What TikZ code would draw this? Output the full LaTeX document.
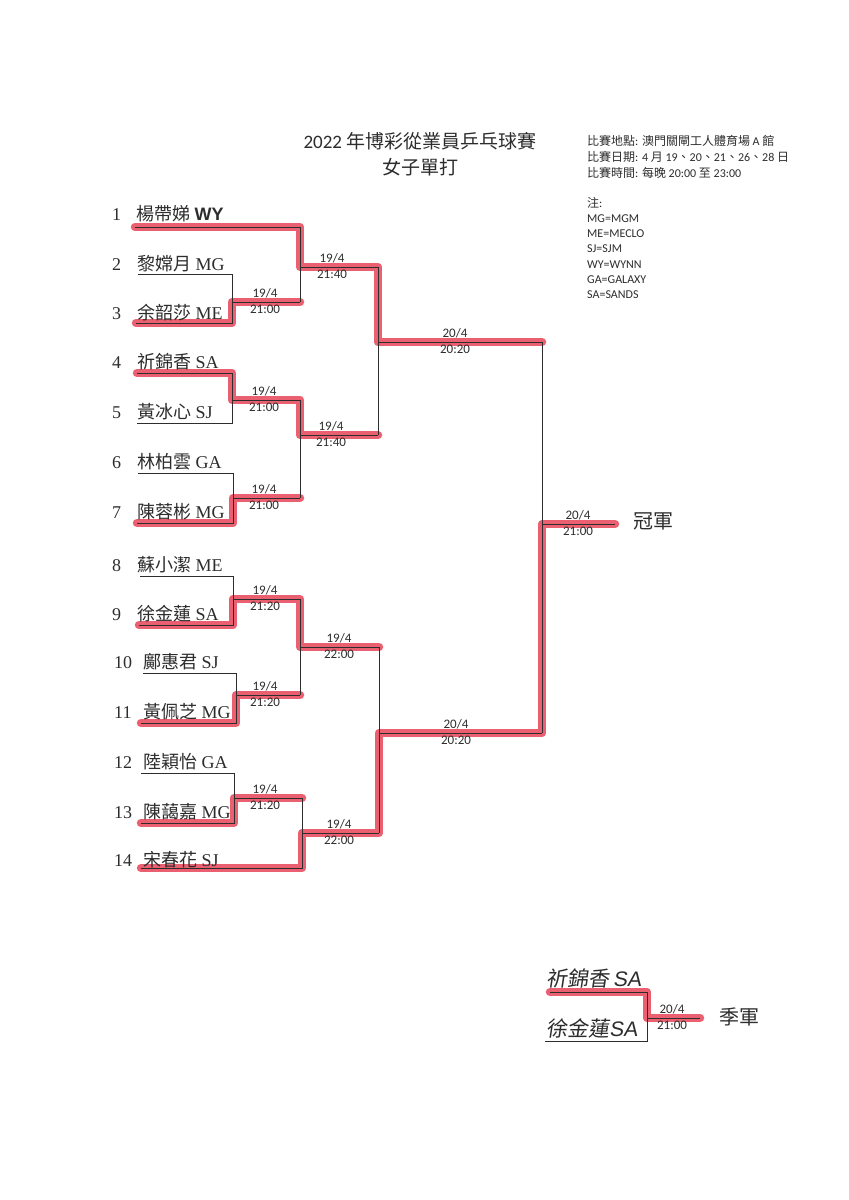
\documentclass[tikz,border=0pt]{standalone}
\usepackage{fontspec}
\setmainfont{Liberation Serif}
\newfontfamily\cjk{Noto Sans CJK TC}
\newfontfamily\calfont{Carlito}
\newfontfamily\arl{Liberation Sans}
\definecolor{hlred}{RGB}{234,96,112}
\definecolor{ink}{RGB}{45,45,45}
\begin{document}
\begin{tikzpicture}[x=1pt,y=-1pt,
  thin/.style={draw=ink, line width=0.8pt},
  hl/.style={draw=hlred, line width=8.5pt, line cap=round, line join=round},
  num/.style={anchor=base west, inner sep=0pt, font=\fontsize{18}{20}\selectfont, text=ink},
  nm/.style={anchor=base west, inner sep=0pt, font=\fontsize{18}{20}\selectfont, text=ink},
  dta/.style={anchor=base, font=\calfont\fontsize{13}{14}\selectfont, inner sep=0pt, text=ink, yshift=5pt},
  dtb/.style={anchor=base, font=\calfont\fontsize{13}{14}\selectfont, inner sep=0pt, text=ink, yshift=-11pt},
  note/.style={anchor=west, inner sep=0pt, font=\calfont\fontsize{12}{13}\selectfont, text=ink},
  ttl/.style={inner sep=0pt, font=\calfont\fontsize{19}{21}\selectfont, text=ink},
  big/.style={inner sep=0pt, font=\cjk\fontsize{20}{22}\selectfont, text=ink},
  hand/.style={inner sep=0pt, font=\fontsize{21}{23}\selectfont, text=ink, xslant=0.15}
]
\useasboundingbox (0,0) rectangle (849,1200);
\fill[white] (0,0) rectangle (849,1200);

% ---------- coordinates ----------
\coordinate (p1s) at (135,227);  \coordinate (p1e) at (300,227);
\coordinate (p2s) at (138,274);  \coordinate (p2e) at (232,274);
\coordinate (p3s) at (136,323);  \coordinate (p3e) at (232,323);
\coordinate (m23) at (232,302);  \coordinate (m23e) at (300,302);
\coordinate (p4s) at (137,373);  \coordinate (p4e) at (232,373);
\coordinate (p5s) at (137,423);  \coordinate (p5e) at (232,423);
\coordinate (m45) at (232,400);  \coordinate (m45e) at (300,400);
\coordinate (p6s) at (138,473);  \coordinate (p6e) at (233,473);
\coordinate (p7s) at (137,523);  \coordinate (p7e) at (233,523);
\coordinate (m67) at (233,498);  \coordinate (m67e) at (300,498);
\coordinate (r1) at (300,267);   \coordinate (r1e) at (378,267);
\coordinate (r2) at (300,435);   \coordinate (r2e) at (378,435);
\coordinate (s1) at (378,342);   \coordinate (s1e) at (542,342);
\coordinate (p8s) at (140,576);  \coordinate (p8e) at (233,576);
\coordinate (p9s) at (139,625);  \coordinate (p9e) at (233,625);
\coordinate (m89) at (233,599);  \coordinate (m89e) at (300,599);
\coordinate (p10s) at (143,673); \coordinate (p10e) at (236,673);
\coordinate (p11s) at (141,723); \coordinate (p11e) at (236,723);
\coordinate (m1011) at (236,695); \coordinate (m1011e) at (300,695);
\coordinate (r3) at (300,647);   \coordinate (r3e) at (379,647);
\coordinate (p12s) at (141,773); \coordinate (p12e) at (234,773);
\coordinate (p13s) at (141,823); \coordinate (p13e) at (234,823);
\coordinate (m1213) at (234,798); \coordinate (m1213e) at (302,798);
\coordinate (p14s) at (141,868); \coordinate (p14e) at (302,868);
\coordinate (r4) at (302,833);   \coordinate (r4e) at (379,833);
\coordinate (s2) at (379,733);   \coordinate (s2e) at (542,733);
\coordinate (f) at (542,524);    \coordinate (fe) at (615,524);
\coordinate (t1s) at (550,992);  \coordinate (t1e) at (647,992);
\coordinate (t2s) at (545,1041); \coordinate (t2e) at (647,1041);
\coordinate (tm) at (647,1018);  \coordinate (tme) at (700,1018);

% ---------- highlighter ----------
\draw[hl] (p1s) -- (p1e) -- (r1) -- (r1e) -- (s1) -- (s1e);
\draw[hl] (p3s) -- (p3e) -- (m23) -- (m23e);
\draw[hl] (p4s) -- (p4e) -- (m45) -- (m45e) -- (r2) -- (r2e);
\draw[hl] (p7s) -- (p7e) -- (m67) -- (m67e);
\draw[hl] (p9s) -- (p9e) -- (m89) -- (m89e) -- (r3) -- (r3e);
\draw[hl] (p11s) -- (p11e) -- (m1011) -- (m1011e);
\draw[hl] (p13s) -- (p13e) -- (m1213) -- (m1213e);
\draw[hl] (p14s) -- (p14e) -- (r4) -- (r4e) -- (s2) -- (s2e) -- (f) -- (fe);
\draw[hl] (t1s) -- (t1e) -- (tm) -- (tme);

% ---------- bracket lines ----------
\draw[thin] (p1s) -- (p1e) -- (m23e);
\draw[thin] (p2s) -- (p2e) -- (p3e) -- (p3s);
\draw[thin] (m23) -- (m23e);
\draw[thin] (r1) -- (r1e) -- (r2e);
\draw[thin] (p4s) -- (p4e) -- (p5e) -- (p5s);
\draw[thin] (m45) -- (m45e) -- (m67e);
\draw[thin] (p6s) -- (p6e) -- (p7e) -- (p7s);
\draw[thin] (m67) -- (m67e);
\draw[thin] (r2) -- (r2e);
\draw[thin] (s1) -- (s1e) -- (s2e);
\draw[thin] (p8s) -- (p8e) -- (p9e) -- (p9s);
\draw[thin] (m89) -- (m89e) -- (m1011e);
\draw[thin] (p10s) -- (p10e) -- (p11e) -- (p11s);
\draw[thin] (m1011) -- (m1011e);
\draw[thin] (r3) -- (r3e) -- (r4e);
\draw[thin] (p12s) -- (p12e) -- (p13e) -- (p13s);
\draw[thin] (m1213) -- (m1213e) -- (p14e) -- (p14s);
\draw[thin] (r4) -- (r4e);
\draw[thin] (s2) -- (s2e);
\draw[thin] (f) -- (fe);
\draw[thin] (t1s) -- (t1e) -- (t2e) -- (t2s);
\draw[thin] (tm) -- (tme);

% ---------- title & notes ----------
\node[ttl] (title1) at (420,141) {2022 {\cjk 年博彩從業員乒乓球賽}};
\node[ttl] (title2) at (420,167) {{\cjk 女子單打}};
\node[note] (nt1) at (587,141) {{\cjk 比賽地點}: {\cjk 澳門關閘工人體育場} A {\cjk 館}};
\node[note] (nt2) at (587,157) {{\cjk 比賽日期}: 4 {\cjk 月} 19{\cjk 、}20{\cjk 、}21{\cjk 、}26{\cjk 、}28 {\cjk 日}};
\node[note] (nt3) at (587,173) {{\cjk 比賽時間}: {\cjk 每晚} 20:00 {\cjk 至} 23:00};
\node[note] (nt4) at (587,203) {{\cjk 注}:};
\node[note] (nt5) at (587,219) {MG=MGM};
\node[note] (nt6) at (587,234) {ME=MECLO};
\node[note] (nt7) at (587,249) {SJ=SJM};
\node[note] (nt8) at (587,265) {WY=WYNN};
\node[note] (nt9) at (587,280) {GA=GALAXY};
\node[note] (nt10) at (587,295) {SA=SANDS};

% ---------- players ----------
\node[num] (n1) at (112,220) {1};   \node[nm] (a1) at (136,220) {{\cjk 楊帶娣} {\arl\bfseries WY}};
\node[num] (n2) at (112,270) {2};   \node[nm] (a2) at (137,270) {{\cjk 黎嫦月} MG};
\node[num] (n3) at (112,319) {3};   \node[nm] (a3) at (137,319) {{\cjk 余韶莎} ME};
\node[num] (n4) at (112,368) {4};   \node[nm] (a4) at (137,368) {{\cjk 祈錦香} SA};
\node[num] (n5) at (112,418) {5};   \node[nm] (a5) at (137,418) {{\cjk 黃冰心} SJ};
\node[num] (n6) at (112,468) {6};   \node[nm] (a6) at (137,468) {{\cjk 林柏雲} GA};
\node[num] (n7) at (112,518) {7};   \node[nm] (a7) at (137,518) {{\cjk 陳蓉彬} MG};
\node[num] (n8) at (112,571) {8};   \node[nm] (a8) at (137,571) {{\cjk 蘇小潔} ME};
\node[num] (n9) at (112,620) {9};   \node[nm] (a9) at (137,620) {{\cjk 徐金蓮} SA};
\node[num] (n10) at (114,668) {10}; \node[nm] (a10) at (143,668) {{\cjk 鄺惠君} SJ};
\node[num] (n11) at (114,718) {11}; \node[nm] (a11) at (143,718) {{\cjk 黃佩芝} MG};
\node[num] (n12) at (114,768) {12}; \node[nm] (a12) at (143,768) {{\cjk 陸穎怡} GA};
\node[num] (n13) at (114,818) {13}; \node[nm] (a13) at (143,818) {{\cjk 陳藹嘉} MG};
\node[num] (n14) at (114,866) {14}; \node[nm] (a14) at (143,866) {{\cjk 宋春花} SJ};

% ---------- match dates ----------
\node[dta] (d23a) at (265,302) {19/4};   \node[dtb] (d23b) at (265,302) {21:00};
\node[dta] (d45a) at (264,400) {19/4};   \node[dtb] (d45b) at (264,400) {21:00};
\node[dta] (d67a) at (264,498) {19/4};   \node[dtb] (d67b) at (264,498) {21:00};
\node[dta] (d89a) at (265,599) {19/4};   \node[dtb] (d89b) at (265,599) {21:20};
\node[dta] (d1011a) at (265,695) {19/4}; \node[dtb] (d1011b) at (265,695) {21:20};
\node[dta] (d1213a) at (265,798) {19/4}; \node[dtb] (d1213b) at (265,798) {21:20};
\node[dta] (dr1a) at (332,267) {19/4};   \node[dtb] (dr1b) at (332,267) {21:40};
\node[dta] (dr2a) at (331,435) {19/4};   \node[dtb] (dr2b) at (331,435) {21:40};
\node[dta] (dr3a) at (339,647) {19/4};   \node[dtb] (dr3b) at (339,647) {22:00};
\node[dta] (dr4a) at (339,833) {19/4};   \node[dtb] (dr4b) at (339,833) {22:00};
\node[dta] (ds1a) at (455,342) {20/4};   \node[dtb] (ds1b) at (455,342) {20:20};
\node[dta] (ds2a) at (456,733) {20/4};   \node[dtb] (ds2b) at (456,733) {20:20};
\node[dta] (dfa) at (578,524) {20/4};    \node[dtb] (dfb) at (578,524) {21:00};
\node[dta] (dta) at (672,1018) {20/4};   \node[dtb] (dtb) at (672,1018) {21:00};

% ---------- results ----------
\node[big] (champ) at (653,521) {冠軍};
\node[big] (third) at (739,1017) {季軍};
\node[hand] (h1) at (595,978) {{\cjk 祈錦香}\,{\arl SA}};
\node[hand] (h2) at (593,1028) {{\cjk 徐金蓮}{\arl SA}};
\end{tikzpicture}
\end{document}
